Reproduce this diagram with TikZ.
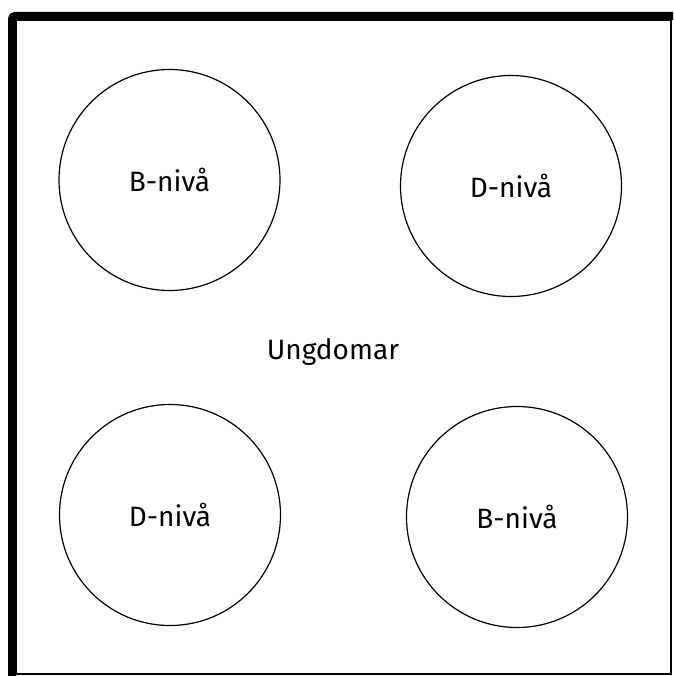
\documentclass[tikz,border=0pt]{standalone}
\usepackage{fontspec}
\setmainfont{Fira Sans}
\usetikzlibrary{positioning}
\tikzset{%
  level/.style={%
    shape=circle, draw, line width=1.2pt, minimum size=221pt, inner sep=0pt,
    font=\fontsize{28}{32}\selectfont
  },
  grouptext/.style={%
    font=\fontsize{28}{32}\selectfont
  },
}

\begin{document}
\begin{tikzpicture}[x=1pt,y=-1pt]
    \useasboundingbox (0,0) rectangle (673,676);
    \fill[white] (0,0) rectangle (673,676);
    % frame
    \draw[line width=1.5pt] (16,20) rectangle (671,674);
    \draw[line width=8pt, rounded corners=3pt] (12,676) -- (12,16) -- (673,16);

    \node (BLevelOne)[level] at (169.5,180) {B-nivå};
    \node (DLevelOne)[level] at (511,186) {D-nivå};
    \node (DLevelTwo)[level] at (170,515) {D-nivå};
    \node (BLevelTwo)[level] at (517,517) {B-nivå};
    \node (Youth)[grouptext] at (333,352) {Ungdomar};
\end{tikzpicture}
\end{document}
